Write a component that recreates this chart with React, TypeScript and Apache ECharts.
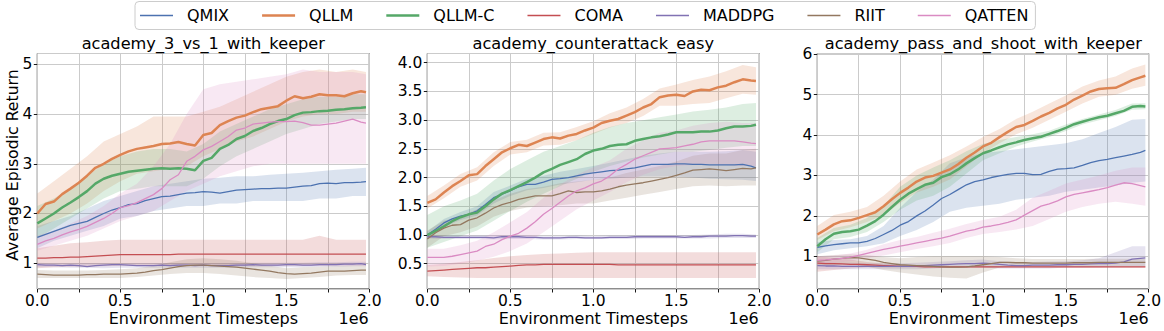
import React, { useEffect, useRef } from 'react';
import * as echarts from 'echarts';

// ---------------- data ----------------
const METHODS = ['QMIX', 'QLLM', 'QLLM-C', 'COMA', 'MADDPG', 'RIIT', 'QATTEN'];
const COLORS = ['#4C72B0', '#DD8452', '#55A868', '#C44E52', '#8172B3', '#937860', '#DA8BC3'];
const THICK = [false, true, true, false, false, false, false];
const TITLES = ['academy_3_vs_1_with_keeper', 'academy_counterattack_easy', 'academy_pass_and_shoot_with_keeper'];
const X_LABEL = 'Environment Timesteps';
const X_SCALE_LABEL = '1e6';
const Y_LABEL = 'Average Episodic Return';
const X_TICK_LABELS = ['0.0', '0.5', '1.0', '1.5', '2.0'];

// x positions (in units of 1e6 timesteps)
const X_MEAN = [0, 0.05, 0.1, 0.15, 0.2, 0.25, 0.3, 0.35, 0.4, 0.45, 0.5, 0.55, 0.6, 0.65, 0.7, 0.75, 0.8, 0.85, 0.9, 0.95,
  1.0, 1.05, 1.1, 1.15, 1.2, 1.25, 1.3, 1.35, 1.4, 1.45, 1.5, 1.55, 1.6, 1.65, 1.7, 1.75, 1.8, 1.85, 1.9, 1.95, 1.98];
const X_BAND = [0, 0.1, 0.2, 0.3, 0.4, 0.5, 0.6, 0.7, 0.8, 0.9, 1.0, 1.1, 1.2, 1.3, 1.4, 1.5, 1.6, 1.7, 1.8, 1.9, 1.98];

// y ranges
const Y_RANGES = [[0.48, 5.22], [0.06, 4.16], [0.19, 6.02]];

// ---- panel 1: academy_3_vs_1_with_keeper ----
const P1_QMIX = [1.52, 1.58, 1.64, 1.7, 1.76, 1.8, 1.84, 1.92, 2.0, 2.07, 2.12, 2.18, 2.2, 2.26, 2.3, 2.34, 2.35, 2.38, 2.41, 2.42,
  2.44, 2.43, 2.41, 2.44, 2.47, 2.48, 2.49, 2.5, 2.5, 2.51, 2.51, 2.53, 2.55, 2.56, 2.6, 2.61, 2.6, 2.62, 2.62, 2.63, 2.64];
const P1_QLLM = [2.0, 2.19, 2.24, 2.39, 2.5, 2.62, 2.76, 2.92, 3.0, 3.1, 3.18, 3.25, 3.3, 3.33, 3.36, 3.4, 3.41, 3.44, 3.4, 3.37,
  3.58, 3.62, 3.78, 3.86, 3.93, 3.97, 4.04, 4.1, 4.13, 4.16, 4.27, 4.36, 4.32, 4.35, 4.4, 4.38, 4.38, 4.36, 4.42, 4.46, 4.44];
const P1_QLLMC = [1.8, 1.9, 2.0, 2.12, 2.22, 2.33, 2.45, 2.6, 2.7, 2.76, 2.8, 2.84, 2.86, 2.88, 2.9, 2.91, 2.9, 2.91, 2.9, 2.87,
  3.06, 3.12, 3.3, 3.38, 3.5, 3.56, 3.66, 3.72, 3.8, 3.86, 3.9, 3.98, 4.03, 4.04, 4.06, 4.07, 4.09, 4.1, 4.12, 4.13, 4.14];
const P1_COMA = [1.1, 1.1, 1.11, 1.11, 1.12, 1.12, 1.13, 1.14, 1.15, 1.16, 1.17, 1.17, 1.17, 1.17, 1.17, 1.17, 1.17, 1.18, 1.18, 1.18,
  1.18, 1.18, 1.18, 1.18, 1.18, 1.18, 1.18, 1.18, 1.18, 1.18, 1.18, 1.18, 1.18, 1.18, 1.18, 1.18, 1.18, 1.18, 1.18, 1.18, 1.18];
const P1_MADDPG = [0.97, 0.96, 0.96, 0.95, 0.96, 0.95, 0.93, 0.95, 0.96, 0.97, 0.97, 0.96, 0.95, 0.95, 0.95, 0.96, 0.95, 0.96, 0.96, 0.95,
  0.96, 0.95, 0.95, 0.95, 0.96, 0.96, 0.97, 0.96, 0.96, 0.96, 0.97, 0.97, 0.96, 0.96, 0.97, 0.97, 0.97, 0.98, 0.98, 0.99, 0.97];
const P1_RIIT = [0.78, 0.77, 0.76, 0.76, 0.76, 0.76, 0.77, 0.77, 0.78, 0.78, 0.78, 0.79, 0.8, 0.82, 0.85, 0.87, 0.9, 0.93, 0.95, 0.96,
  0.96, 0.95, 0.94, 0.93, 0.92, 0.9, 0.88, 0.86, 0.84, 0.81, 0.79, 0.78, 0.79, 0.8, 0.82, 0.84, 0.84, 0.84, 0.85, 0.86, 0.86];
const P1_QATTEN = [1.38, 1.45, 1.5, 1.57, 1.63, 1.68, 1.74, 1.82, 1.9, 2.0, 2.12, 2.16, 2.22, 2.3, 2.38, 2.5, 2.68, 2.78, 3.05, 3.15,
  3.28, 3.35, 3.45, 3.55, 3.68, 3.72, 3.8, 3.82, 3.84, 3.85, 3.85, 3.86, 3.83, 3.78, 3.78, 3.8, 3.82, 3.86, 3.9, 3.84, 3.82];

const P1_QMIX_LO = [1.3, 1.45, 1.55, 1.65, 1.75, 1.9, 1.95, 2.05, 2.1, 2.15, 2.15, 2.2, 2.2, 2.25, 2.25, 2.25, 2.25, 2.3, 2.3, 2.35, 2.35];
const P1_QMIX_HI = [1.75, 1.85, 1.95, 2.1, 2.25, 2.35, 2.45, 2.55, 2.6, 2.65, 2.7, 2.72, 2.75, 2.75, 2.78, 2.8, 2.82, 2.85, 2.88, 2.9, 2.92];
const P1_QLLM_LO = [1.7, 1.85, 2.0, 2.2, 2.45, 2.65, 2.8, 2.85, 2.9, 2.95, 3.15, 3.3, 3.45, 3.55, 3.7, 3.85, 3.95, 4.0, 4.0, 4.05, 4.05];
const P1_QLLM_HI = [2.4, 2.65, 2.9, 3.15, 3.45, 3.6, 3.75, 3.95, 3.95, 3.95, 4.05, 4.15, 4.3, 4.45, 4.6, 4.75, 4.85, 4.9, 4.85, 4.9, 4.85];
const P1_QLLMC_LO = [1.5, 1.7, 1.9, 2.1, 2.3, 2.45, 2.5, 2.55, 2.55, 2.55, 2.7, 2.95, 3.15, 3.3, 3.45, 3.6, 3.7, 3.8, 3.85, 3.9, 3.9];
const P1_QLLMC_HI = [2.15, 2.3, 2.5, 2.75, 3.0, 3.15, 3.25, 3.3, 3.3, 3.25, 3.4, 3.65, 3.8, 3.95, 4.1, 4.2, 4.3, 4.35, 4.35, 4.4, 4.4];
const P1_COMA_LO = [0.9, 0.92, 0.93, 0.93, 0.94, 0.95, 0.95, 0.95, 0.95, 0.95, 0.95, 0.95, 0.95, 0.95, 0.95, 0.95, 0.95, 0.95, 0.95, 0.95, 0.95];
const P1_COMA_HI = [1.3, 1.35, 1.4, 1.42, 1.45, 1.47, 1.47, 1.47, 1.47, 1.47, 1.47, 1.47, 1.47, 1.47, 1.47, 1.47, 1.47, 1.55, 1.47, 1.47, 1.47];
const P1_MADDPG_LO = [0.92, 0.92, 0.91, 0.91, 0.9, 0.91, 0.91, 0.91, 0.91, 0.91, 0.91, 0.91, 0.91, 0.92, 0.92, 0.92, 0.92, 0.93, 0.93, 0.94, 0.94];
const P1_MADDPG_HI = [1.01, 1.0, 1.0, 1.0, 1.0, 1.0, 1.0, 1.0, 1.0, 1.0, 1.0, 1.0, 1.0, 1.01, 1.01, 1.01, 1.01, 1.02, 1.02, 1.03, 1.03];
const P1_RIIT_LO = [0.7, 0.7, 0.7, 0.7, 0.7, 0.7, 0.72, 0.75, 0.78, 0.8, 0.8, 0.78, 0.75, 0.72, 0.7, 0.68, 0.7, 0.72, 0.75, 0.76, 0.76];
const P1_RIIT_HI = [0.86, 0.85, 0.85, 0.85, 0.86, 0.88, 0.9, 0.95, 1.02, 1.08, 1.1, 1.08, 1.05, 1.0, 0.95, 0.9, 0.92, 0.93, 0.94, 0.95, 0.95];
const P1_QATTEN_LO = [1.25, 1.35, 1.45, 1.55, 1.7, 1.85, 1.95, 2.05, 2.25, 2.45, 2.6, 2.75, 2.85, 2.95, 3.0, 3.0, 3.0, 3.0, 3.0, 3.0, 3.0];
const P1_QATTEN_HI = [1.55, 1.65, 1.8, 1.95, 2.15, 2.4, 2.6, 2.95, 3.4, 4.0, 4.5, 4.6, 4.65, 4.7, 4.75, 4.8, 4.9, 4.85, 4.85, 4.85, 4.8];

// ---- panel 2: academy_counterattack_easy ----
const P2_QMIX = [1.0, 1.1, 1.21, 1.28, 1.33, 1.36, 1.42, 1.53, 1.65, 1.71, 1.77, 1.84, 1.88, 1.88, 1.92, 1.97, 1.98, 2.0, 2.03, 2.06,
  2.08, 2.1, 2.12, 2.13, 2.15, 2.17, 2.2, 2.23, 2.23, 2.23, 2.24, 2.24, 2.23, 2.23, 2.22, 2.22, 2.22, 2.22, 2.23, 2.2, 2.17];
const P2_QLLM = [1.56, 1.62, 1.74, 1.85, 1.94, 2.04, 2.06, 2.2, 2.32, 2.44, 2.51, 2.57, 2.55, 2.61, 2.67, 2.7, 2.68, 2.73, 2.76, 2.82,
  2.87, 2.95, 2.99, 3.02, 3.08, 3.14, 3.22, 3.28, 3.4, 3.43, 3.44, 3.42, 3.5, 3.53, 3.52, 3.57, 3.6, 3.66, 3.71, 3.69, 3.68];
const P2_QLLMC = [1.0, 1.07, 1.15, 1.24, 1.31, 1.36, 1.39, 1.5, 1.62, 1.72, 1.78, 1.85, 1.92, 2.0, 2.09, 2.15, 2.22, 2.27, 2.32, 2.41,
  2.47, 2.5, 2.55, 2.57, 2.58, 2.64, 2.67, 2.7, 2.72, 2.75, 2.79, 2.79, 2.79, 2.8, 2.8, 2.82, 2.86, 2.89, 2.89, 2.9, 2.92];
const P2_COMA = [0.37, 0.38, 0.39, 0.4, 0.41, 0.42, 0.43, 0.43, 0.44, 0.45, 0.46, 0.47, 0.48, 0.48, 0.49, 0.49, 0.49, 0.49, 0.49, 0.49,
  0.49, 0.49, 0.49, 0.48, 0.48, 0.48, 0.48, 0.48, 0.48, 0.48, 0.48, 0.48, 0.48, 0.48, 0.48, 0.48, 0.48, 0.48, 0.48, 0.48, 0.48];
const P2_MADDPG = [0.97, 0.97, 0.96, 0.96, 0.96, 0.96, 0.96, 0.96, 0.95, 0.97, 0.97, 0.97, 0.96, 0.96, 0.95, 0.95, 0.95, 0.96, 0.96, 0.95,
  0.95, 0.95, 0.96, 0.96, 0.96, 0.97, 0.97, 0.97, 0.97, 0.97, 0.97, 0.96, 0.97, 0.97, 0.98, 0.98, 0.98, 0.99, 0.99, 0.98, 0.98];
const P2_RIIT = [0.93, 1.04, 1.12, 1.17, 1.18, 1.26, 1.3, 1.38, 1.47, 1.53, 1.57, 1.62, 1.65, 1.68, 1.68, 1.68, 1.72, 1.77, 1.74, 1.75,
  1.75, 1.77, 1.8, 1.84, 1.87, 1.89, 1.91, 1.94, 1.97, 2.0, 2.04, 2.08, 2.13, 2.14, 2.15, 2.14, 2.12, 2.14, 2.16, 2.15, 2.17];
const P2_QATTEN = [0.61, 0.61, 0.61, 0.63, 0.66, 0.69, 0.72, 0.8, 0.84, 0.92, 0.98, 1.03, 1.12, 1.23, 1.36, 1.46, 1.57, 1.68, 1.77, 1.82,
  1.89, 1.94, 2.03, 2.15, 2.23, 2.32, 2.38, 2.44, 2.5, 2.51, 2.52, 2.55, 2.58, 2.62, 2.64, 2.64, 2.64, 2.64, 2.62, 2.6, 2.59];

const P2_QMIX_LO = [0.95, 1.14, 1.26, 1.34, 1.55, 1.68, 1.78, 1.82, 1.88, 1.92, 1.96, 1.98, 2.0, 2.02, 2.02, 2.02, 2.0, 1.98, 1.97, 1.96, 1.94];
const P2_QMIX_HI = [1.06, 1.28, 1.4, 1.5, 1.75, 1.86, 1.98, 2.03, 2.1, 2.15, 2.2, 2.26, 2.32, 2.38, 2.42, 2.45, 2.45, 2.45, 2.46, 2.48, 2.45];
const P2_QLLM_LO = [1.46, 1.64, 1.84, 1.95, 2.2, 2.4, 2.44, 2.56, 2.57, 2.65, 2.76, 2.87, 2.95, 3.07, 3.25, 3.25, 3.28, 3.3, 3.38, 3.46, 3.44];
const P2_QLLM_HI = [1.68, 1.86, 2.06, 2.18, 2.44, 2.62, 2.66, 2.78, 2.79, 2.88, 2.98, 3.12, 3.22, 3.37, 3.55, 3.62, 3.7, 3.76, 3.85, 3.96, 3.92];
const P2_QLLMC_LO = [0.78, 0.88, 0.98, 1.08, 1.25, 1.42, 1.58, 1.72, 1.85, 1.98, 2.1, 2.2, 2.28, 2.35, 2.4, 2.45, 2.45, 2.48, 2.52, 2.55, 2.55];
const P2_QLLMC_HI = [1.35, 1.5, 1.6, 1.72, 1.95, 2.15, 2.3, 2.45, 2.55, 2.65, 2.78, 2.88, 2.95, 3.0, 3.05, 3.1, 3.15, 3.18, 3.22, 3.28, 3.3];
const P2_COMA_LO = [0.28, 0.27, 0.26, 0.25, 0.25, 0.25, 0.25, 0.25, 0.25, 0.25, 0.25, 0.25, 0.25, 0.25, 0.25, 0.25, 0.25, 0.25, 0.25, 0.25, 0.25];
const P2_COMA_HI = [0.48, 0.5, 0.53, 0.56, 0.6, 0.63, 0.65, 0.67, 0.68, 0.69, 0.7, 0.7, 0.7, 0.7, 0.7, 0.7, 0.7, 0.7, 0.7, 0.7, 0.7];
const P2_MADDPG_LO = [0.94, 0.93, 0.93, 0.93, 0.92, 0.93, 0.93, 0.92, 0.92, 0.93, 0.93, 0.93, 0.93, 0.94, 0.94, 0.94, 0.94, 0.94, 0.95, 0.95, 0.95];
const P2_MADDPG_HI = [1.0, 0.99, 0.99, 0.99, 0.99, 1.0, 0.99, 0.98, 0.98, 0.99, 0.98, 0.99, 0.99, 1.0, 1.0, 1.0, 1.0, 1.01, 1.02, 1.02, 1.01];
const P2_RIIT_LO = [0.78, 0.98, 1.05, 1.15, 1.32, 1.42, 1.48, 1.5, 1.52, 1.55, 1.55, 1.6, 1.65, 1.7, 1.75, 1.8, 1.85, 1.86, 1.85, 1.86, 1.86];
const P2_RIIT_HI = [1.08, 1.25, 1.32, 1.45, 1.6, 1.72, 1.8, 1.84, 1.9, 1.93, 1.96, 2.0, 2.08, 2.14, 2.2, 2.28, 2.38, 2.42, 2.42, 2.48, 2.5];
const P2_QATTEN_LO = [0.45, 0.46, 0.5, 0.55, 0.62, 0.72, 0.85, 1.05, 1.25, 1.45, 1.6, 1.75, 1.92, 2.05, 2.15, 2.2, 2.22, 2.24, 2.22, 2.2, 2.2];
const P2_QATTEN_HI = [0.76, 0.76, 0.82, 0.9, 1.05, 1.22, 1.4, 1.65, 1.88, 2.05, 2.18, 2.3, 2.5, 2.65, 2.78, 2.82, 2.9, 2.95, 2.97, 2.95, 2.95];

// ---- panel 3: academy_pass_and_shoot_with_keeper ----
const P3_QMIX = [1.22, 1.26, 1.29, 1.31, 1.33, 1.33, 1.37, 1.44, 1.54, 1.64, 1.77, 1.86, 2.0, 2.12, 2.27, 2.43, 2.53, 2.65, 2.77, 2.85,
  2.89, 2.95, 2.99, 3.03, 3.05, 3.05, 3.02, 3.03, 3.1, 3.16, 3.17, 3.19, 3.25, 3.32, 3.37, 3.4, 3.44, 3.48, 3.52, 3.57, 3.62];
const P3_QLLM = [1.54, 1.66, 1.79, 1.87, 1.89, 1.95, 2.02, 2.09, 2.24, 2.41, 2.57, 2.7, 2.85, 2.95, 2.99, 3.07, 3.15, 3.28, 3.44, 3.57,
  3.72, 3.81, 3.95, 4.08, 4.2, 4.25, 4.35, 4.46, 4.55, 4.66, 4.75, 4.88, 4.98, 5.08, 5.14, 5.16, 5.17, 5.26, 5.36, 5.43, 5.47];
const P3_QLLMC = [1.25, 1.42, 1.56, 1.6, 1.62, 1.66, 1.76, 1.87, 2.03, 2.22, 2.4, 2.55, 2.66, 2.77, 2.82, 2.96, 3.03, 3.15, 3.3, 3.43,
  3.55, 3.62, 3.7, 3.77, 3.82, 3.88, 3.92, 3.96, 4.03, 4.1, 4.18, 4.27, 4.33, 4.39, 4.44, 4.48, 4.54, 4.6, 4.7, 4.72, 4.71];
const P3_COMA = [0.83, 0.82, 0.82, 0.81, 0.8, 0.8, 0.79, 0.78, 0.77, 0.76, 0.75, 0.75, 0.75, 0.74, 0.74, 0.74, 0.74, 0.74, 0.74, 0.74,
  0.74, 0.74, 0.74, 0.74, 0.74, 0.74, 0.74, 0.74, 0.74, 0.74, 0.74, 0.74, 0.74, 0.74, 0.74, 0.74, 0.74, 0.74, 0.74, 0.74, 0.74];
const P3_MADDPG = [0.77, 0.76, 0.76, 0.75, 0.75, 0.75, 0.75, 0.75, 0.75, 0.75, 0.75, 0.75, 0.76, 0.77, 0.78, 0.79, 0.8, 0.81, 0.82, 0.82,
  0.83, 0.82, 0.8, 0.78, 0.77, 0.77, 0.78, 0.78, 0.78, 0.79, 0.79, 0.8, 0.8, 0.81, 0.82, 0.82, 0.83, 0.86, 0.93, 0.95, 0.96];
const P3_RIIT = [0.88, 0.9, 0.93, 0.95, 0.97, 0.96, 0.93, 0.9, 0.85, 0.82, 0.79, 0.78, 0.77, 0.76, 0.75, 0.74, 0.73, 0.73, 0.74, 0.76,
  0.79, 0.82, 0.85, 0.85, 0.84, 0.84, 0.83, 0.83, 0.83, 0.83, 0.83, 0.84, 0.84, 0.84, 0.85, 0.85, 0.85, 0.85, 0.85, 0.85, 0.85];
const P3_QATTEN = [0.9, 0.91, 0.93, 0.95, 0.98, 1.02, 1.07, 1.12, 1.17, 1.21, 1.25, 1.29, 1.33, 1.37, 1.41, 1.45, 1.5, 1.56, 1.62, 1.66,
  1.72, 1.75, 1.79, 1.84, 1.9, 2.02, 2.13, 2.24, 2.3, 2.37, 2.47, 2.53, 2.57, 2.61, 2.65, 2.7, 2.76, 2.82, 2.8, 2.75, 2.72];

const P3_QMIX_LO = [1.05, 1.15, 1.2, 1.25, 1.32, 1.5, 1.65, 1.85, 2.1, 2.2, 2.25, 2.3, 2.4, 2.45, 2.5, 2.6, 2.65, 2.7, 2.75, 2.82, 2.85];
const P3_QMIX_HI = [1.35, 1.4, 1.42, 1.5, 1.75, 2.2, 2.6, 2.9, 3.3, 3.45, 3.55, 3.6, 3.65, 3.7, 3.75, 3.8, 3.9, 4.05, 4.2, 4.38, 4.4];
const P3_QLLM_LO = [1.4, 1.62, 1.72, 1.85, 2.02, 2.32, 2.58, 2.72, 2.9, 3.22, 3.55, 3.8, 4.02, 4.18, 4.38, 4.58, 4.78, 4.95, 5.0, 5.15, 5.22];
const P3_QLLM_HI = [1.75, 2.02, 2.1, 2.22, 2.5, 2.85, 3.15, 3.32, 3.5, 3.72, 3.95, 4.15, 4.4, 4.58, 4.78, 4.98, 5.2, 5.35, 5.45, 5.65, 5.75];
const P3_QLLMC_LO = [1.1, 1.42, 1.48, 1.6, 1.85, 2.15, 2.38, 2.5, 2.72, 3.05, 3.38, 3.55, 3.72, 3.84, 3.95, 4.1, 4.26, 4.37, 4.47, 4.63, 4.64];
const P3_QLLMC_HI = [1.45, 1.7, 1.78, 1.95, 2.25, 2.72, 3.0, 3.2, 3.38, 3.6, 3.78, 3.88, 3.95, 4.02, 4.11, 4.26, 4.4, 4.51, 4.62, 4.78, 4.79];
const P3_COMA_LO = [0.62, 0.66, 0.7, 0.72, 0.72, 0.72, 0.72, 0.72, 0.72, 0.72, 0.72, 0.72, 0.72, 0.72, 0.72, 0.72, 0.72, 0.72, 0.72, 0.72, 0.72];
const P3_COMA_HI = [1.0, 0.96, 0.92, 0.86, 0.82, 0.8, 0.78, 0.77, 0.76, 0.76, 0.76, 0.76, 0.76, 0.76, 0.76, 0.76, 0.76, 0.76, 0.76, 0.76, 0.76];
const P3_MADDPG_LO = [0.68, 0.68, 0.68, 0.68, 0.68, 0.68, 0.68, 0.7, 0.72, 0.72, 0.72, 0.7, 0.7, 0.7, 0.7, 0.72, 0.72, 0.73, 0.75, 0.75, 0.75];
const P3_MADDPG_HI = [0.86, 0.84, 0.84, 0.83, 0.83, 0.83, 0.84, 0.86, 0.88, 0.9, 0.92, 0.88, 0.86, 0.86, 0.87, 0.88, 0.9, 0.95, 1.1, 1.25, 1.25];
const P3_RIIT_LO = [0.76, 0.78, 0.8, 0.74, 0.66, 0.6, 0.55, 0.5, 0.47, 0.45, 0.6, 0.72, 0.75, 0.75, 0.75, 0.75, 0.75, 0.76, 0.76, 0.76, 0.76];
const P3_RIIT_HI = [1.0, 1.03, 1.05, 1.03, 0.98, 0.95, 0.98, 1.0, 1.0, 1.0, 1.0, 0.98, 0.95, 0.93, 0.93, 0.93, 0.93, 0.94, 0.94, 0.94, 0.94];
const P3_QATTEN_LO = [0.8, 0.84, 0.88, 0.95, 1.02, 1.1, 1.18, 1.25, 1.33, 1.45, 1.55, 1.6, 1.66, 1.75, 1.92, 2.1, 2.22, 2.3, 2.35, 2.3, 2.25];
const P3_QATTEN_HI = [1.0, 1.02, 1.07, 1.16, 1.3, 1.4, 1.48, 1.58, 1.68, 1.8, 1.9, 1.98, 2.15, 2.45, 2.62, 2.8, 2.9, 3.0, 3.12, 3.2, 3.2];

// grouped per panel, in METHODS order
const MEANS = [
  [P1_QMIX, P1_QLLM, P1_QLLMC, P1_COMA, P1_MADDPG, P1_RIIT, P1_QATTEN],
  [P2_QMIX, P2_QLLM, P2_QLLMC, P2_COMA, P2_MADDPG, P2_RIIT, P2_QATTEN],
  [P3_QMIX, P3_QLLM, P3_QLLMC, P3_COMA, P3_MADDPG, P3_RIIT, P3_QATTEN],
];
const LOWS = [
  [P1_QMIX_LO, P1_QLLM_LO, P1_QLLMC_LO, P1_COMA_LO, P1_MADDPG_LO, P1_RIIT_LO, P1_QATTEN_LO],
  [P2_QMIX_LO, P2_QLLM_LO, P2_QLLMC_LO, P2_COMA_LO, P2_MADDPG_LO, P2_RIIT_LO, P2_QATTEN_LO],
  [P3_QMIX_LO, P3_QLLM_LO, P3_QLLMC_LO, P3_COMA_LO, P3_MADDPG_LO, P3_RIIT_LO, P3_QATTEN_LO],
];
const HIGHS = [
  [P1_QMIX_HI, P1_QLLM_HI, P1_QLLMC_HI, P1_COMA_HI, P1_MADDPG_HI, P1_RIIT_HI, P1_QATTEN_HI],
  [P2_QMIX_HI, P2_QLLM_HI, P2_QLLMC_HI, P2_COMA_HI, P2_MADDPG_HI, P2_RIIT_HI, P2_QATTEN_HI],
  [P3_QMIX_HI, P3_QLLM_HI, P3_QLLMC_HI, P3_COMA_HI, P3_MADDPG_HI, P3_RIIT_HI, P3_QATTEN_HI],
];

// ---------------- layout / style ----------------
const FONT = '"DejaVu Sans", Verdana, sans-serif';
const GRID_LEFT = [37.3, 427.3, 817.3];
const GRID_W = 332;
const GRID_TOP = 53.5;
const GRID_H = 235.5;
const SPLIT_NUM = [5, 8, 5];
const LABEL_DECIMALS = [0, 1, 0];

function rgba(hex: string, a: number) {
  const n = parseInt(hex.slice(1), 16);
  return `rgba(${(n >> 16) & 255},${(n >> 8) & 255},${n & 255},${a})`;
}

function legendIcon(thick: boolean) {
  const h = thick ? 2.6 : 1.5;
  const y0 = 7 - h / 2;
  const y1 = 7 + h / 2;
  return `path://M0,0L0.01,0L0.01,0.01ZM0,${y0}L33,${y0}L33,${y1}L0,${y1}ZM32.99,14L33,14L33,13.99Z`;
}

function buildOption() {
  const grid: any[] = [];
  const xAxis: any[] = [];
  const yAxis: any[] = [];
  const series: any[] = [];
  const graphic: any[] = [];

  for (let p = 0; p < 3; p++) {
    grid.push({
      left: GRID_LEFT[p], top: GRID_TOP, width: GRID_W, height: GRID_H,
      show: true, borderColor: '#1a1a1a', borderWidth: 1, backgroundColor: 'transparent',
    });
    xAxis.push({
      gridIndex: p, type: 'value', min: 0, max: 2, interval: 0.25,
      axisLine: { show: false },
      axisTick: { show: true, length: 3.5, lineStyle: { color: '#1a1a1a', width: 1 } },
      axisLabel: {
        show: true, margin: 4, fontSize: 15.5, fontFamily: FONT, color: '#000',
        showMinLabel: true, showMaxLabel: true,
        formatter: (v: number) => {
          const idx = Math.round(v * 2);
          return Math.abs(v * 2 - idx) < 1e-6 ? X_TICK_LABELS[idx] : '';
        },
      },
      splitLine: { show: true, lineStyle: { color: '#cbcbcb', width: 1 } },
    });
    const dec = LABEL_DECIMALS[p];
    yAxis.push({
      gridIndex: p, type: 'value', min: Y_RANGES[p][0], max: Y_RANGES[p][1], splitNumber: SPLIT_NUM[p],
      axisLine: { show: false },
      axisTick: { show: true, length: 3.5, lineStyle: { color: '#1a1a1a', width: 1 } },
      axisLabel: {
        show: true, margin: 5, fontSize: 15.5, fontFamily: FONT, color: '#000',
        showMinLabel: false, showMaxLabel: false,
        formatter: (v: number) => v.toFixed(dec),
      },
      splitLine: { show: true, lineStyle: { color: '#cbcbcb', width: 1 } },
    });

    for (let m = 0; m < METHODS.length; m++) {
      const lo = LOWS[p][m];
      const hi = HIGHS[p][m];
      const color = COLORS[m];
      series.push({
        type: 'custom',
        name: METHODS[m] + ' band ' + (p + 1),
        xAxisIndex: p, yAxisIndex: p, silent: true, z: 1, clip: true,
        data: [[X_BAND[0], lo[0]]],
        renderItem: (params: any, api: any) => {
          const pts: number[][] = [];
          for (let i = 0; i < X_BAND.length; i++) pts.push(api.coord([X_BAND[i], hi[i]]));
          for (let i = X_BAND.length - 1; i >= 0; i--) pts.push(api.coord([X_BAND[i], lo[i]]));
          return { type: 'polygon', shape: { points: pts }, style: { fill: rgba(color, 0.2), stroke: null } };
        },
      });
    }
    for (let m = 0; m < METHODS.length; m++) {
      const vals = MEANS[p][m];
      series.push({
        type: 'line', name: METHODS[m], xAxisIndex: p, yAxisIndex: p,
        data: X_MEAN.map((x, i) => [x, vals[i]]),
        symbol: 'none', showSymbol: false, silent: true, z: 3,
        symbolKeepAspect: true,
        lineStyle: { color: COLORS[m], width: THICK[m] ? 2.5 : 1.3 },
        itemStyle: { color: COLORS[m] },
        emphasis: { disabled: true },
      });
    }

    const cx = GRID_LEFT[p] + GRID_W / 2;
    graphic.push({
      type: 'text', x: cx, y: 43.3, silent: true, z: 100,
      style: { text: TITLES[p], font: `16.2px ${FONT}`, fill: '#000', align: 'center', verticalAlign: 'middle' },
    });
    graphic.push({
      type: 'text', x: cx, y: 318, silent: true, z: 100,
      style: { text: X_LABEL, font: `16px ${FONT}`, fill: '#000', align: 'center', verticalAlign: 'middle' },
    });
    graphic.push({
      type: 'text', x: GRID_LEFT[p] + GRID_W - 0.5, y: 318, silent: true, z: 100,
      style: { text: X_SCALE_LABEL, font: `16px ${FONT}`, fill: '#000', align: 'right', verticalAlign: 'middle' },
    });
  }

  graphic.push({
    type: 'text', x: 12, y: 165, rotation: Math.PI / 2, silent: true, z: 100,
    style: { text: Y_LABEL, font: `15.7px ${FONT}`, fill: '#000', align: 'center', verticalAlign: 'middle' },
  });

  return {
    animation: false,
    backgroundColor: '#ffffff',
    grid, xAxis, yAxis, series, graphic,
    legend: {
      left: 135, top: 1.5, orient: 'horizontal',
      itemWidth: 33, itemHeight: 14, itemGap: 33,
      padding: [5, 7, 5, 5],
      borderColor: '#cccccc', borderWidth: 1, borderRadius: 4,
      backgroundColor: 'rgba(255,255,255,0.8)',
      selectedMode: false,
      textStyle: { fontSize: 16, fontFamily: FONT, color: '#000', padding: [0, 0, 0, 9], lineHeight: 18 },
      data: METHODS.map((m, i) => ({ name: m, icon: legendIcon(THICK[i]), itemStyle: { color: COLORS[i] } })),
    },
  };
}

export default function App() {
  const ref = useRef<HTMLDivElement>(null);
  useEffect(() => {
    if (!ref.current) return;
    const chart = echarts.init(ref.current, undefined, { renderer: 'svg' });
    chart.setOption(buildOption() as any);
    return () => chart.dispose();
  }, []);
  return (
    <div
      ref={ref}
      style={{ position: 'absolute', left: 0, top: 0, width: 1164, height: 331, background: '#fff' }}
    />
  );
}
